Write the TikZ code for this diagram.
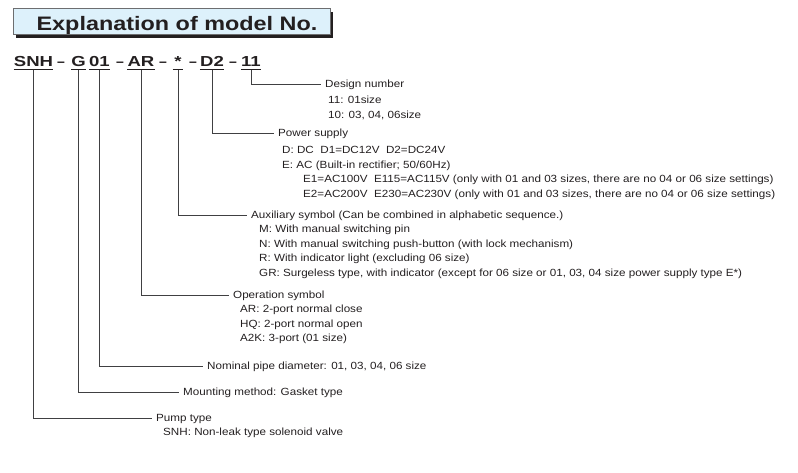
\documentclass[tikz,border=0pt]{standalone}
\usepackage{fontspec}
\setmainfont{Liberation Sans}[FakeStretch=1.12]
\newfontfamily\titlefont{Liberation Sans}[FakeStretch=1.2]
\newfontfamily\codefont{Liberation Sans}[FakeStretch=1.28]
\newfontfamily\dashfont{Liberation Sans}
\usepackage{xcolor}
\usepackage{tikz}
\usetikzlibrary{shadows}

\definecolor{inkgray}{HTML}{231F20}
\definecolor{titleblue}{HTML}{DDF1FB}
\definecolor{framegray}{HTML}{6D6E70}
\definecolor{leadgray}{HTML}{404042}

\begin{document}
\begin{tikzpicture}[x=1pt,y=-1pt,
	titlebox/.style={draw=framegray, line width=1pt, fill=titleblue, minimum width=317pt, minimum height=26pt, inner sep=0pt, text height=18pt, text depth=0pt, text=inkgray, font=\titlefont\bfseries\fontsize{19.5}{22}\selectfont, drop shadow={shadow xshift=3pt, shadow yshift=-3pt, fill=inkgray, opacity=1}},
	codepart/.style={font=\codefont\bfseries\fontsize{14.5}{16}\selectfont, text=inkgray, inner xsep=0pt, inner ysep=2.5pt, text depth=0pt, anchor=base},
	joiner/.style={font=\dashfont\bfseries\fontsize{14}{16}\selectfont, text=inkgray, inner sep=0pt, anchor=base},
	headtext/.style={font=\fontsize{10.4}{14.6}\selectfont, text=inkgray, anchor=west, inner xsep=4pt, inner ysep=0pt, text height=7.4pt, text depth=0pt},
	subtext/.style={font=\fontsize{10.4}{14.6}\selectfont, text=inkgray, anchor=north west, inner sep=0pt, align=left},
	leader/.style={draw=leadgray, line width=0.9pt}]
	\useasboundingbox (0,0) rectangle (798,473);
	\node[titlebox] (title) at (171.5,22) {\hspace*{11pt}Explanation of model No.};
	% model number
	\node[codepart] (sSNH) at (33.5,67) {SNH};
	\node[joiner] (j1) at (61,67) {–};
	\node[codepart] (sG) at (78.5,67) {G};
	\node[codepart] (s01) at (99.5,67) {01};
	\node[joiner] (j2) at (120,67) {–};
	\node[codepart] (sAR) at (141,67) {AR};
	\node[joiner] (j3) at (163,67) {–};
	\node[codepart] (sAst) at (178,67) {*};
	\node[joiner] (j4) at (193,67) {–};
	\node[codepart] (sD2) at (212,67) {D2};
	\node[joiner] (j5) at (233,67) {–};
	\node[codepart] (s11) at (251,67) {11};
	\foreach \s in {sSNH,sG,s01,sAR,sD2,s11}
		\draw[inkgray, line width=1pt] (\s.south west) -- (\s.south east);
	\draw[inkgray, line width=1pt] ([xshift=-1.5pt]sAst.south west) -- ([xshift=1.5pt]sAst.south east);
	% explanations
	\node[headtext] (hDesign) at (321,84) {Design number};
	\node[subtext] (dDesign) at (328,96) {11: 01size\\10: 03, 04, 06size};
	\node[headtext] (hPower) at (274,133) {Power supply};
	\node[subtext] (dPower) at (282,146) {D: DC~~D1=DC12V~~D2=DC24V\\E: AC (Built-in rectifier; 50/60Hz)\\
		\hspace*{21pt}E1=AC100V~~E115=AC115V (only with 01 and 03 sizes, there are no 04 or 06 size settings)\\
		\hspace*{21pt}E2=AC200V~~E230=AC230V (only with 01 and 03 sizes, there are no 04 or 06 size settings)};
	\node[headtext] (hAux) at (247,215) {Auxiliary symbol (Can be combined in alphabetic sequence.)};
	\node[subtext] (dAux) at (259,225) {M: With manual switching pin\\N: With manual switching push-button (with lock mechanism)\\
		R: With indicator light (excluding 06 size)\\GR: Surgeless type, with indicator (except for 06 size or 01, 03, 04 size power supply type E*)};
	\node[headtext] (hOp) at (229,295) {Operation symbol};
	\node[subtext] (dOp) at (240,305) {AR: 2-port normal close\\HQ: 2-port normal open\\A2K: 3-port (01 size)};
	\node[headtext] (hNom) at (203,366) {Nominal pipe diameter: 01, 03, 04, 06 size};
	\node[headtext] (hMount) at (179,392) {Mounting method: Gasket type};
	\node[headtext] (hPump) at (152,418) {Pump type};
	\node[subtext] (dPump) at (163,428) {SNH: Non-leak type solenoid valve};
	% connectors
	\draw[leader] (s11.south) |- (hDesign.west);
	\draw[leader] (sD2.south) |- (hPower.west);
	\draw[leader] (sAst.south) |- (hAux.west);
	\draw[leader] (sAR.south) |- (hOp.west);
	\draw[leader] (s01.south) |- (hNom.west);
	\draw[leader] (sG.south) |- (hMount.west);
	\draw[leader] (sSNH.south) |- (hPump.west);
\end{tikzpicture}
\end{document}
